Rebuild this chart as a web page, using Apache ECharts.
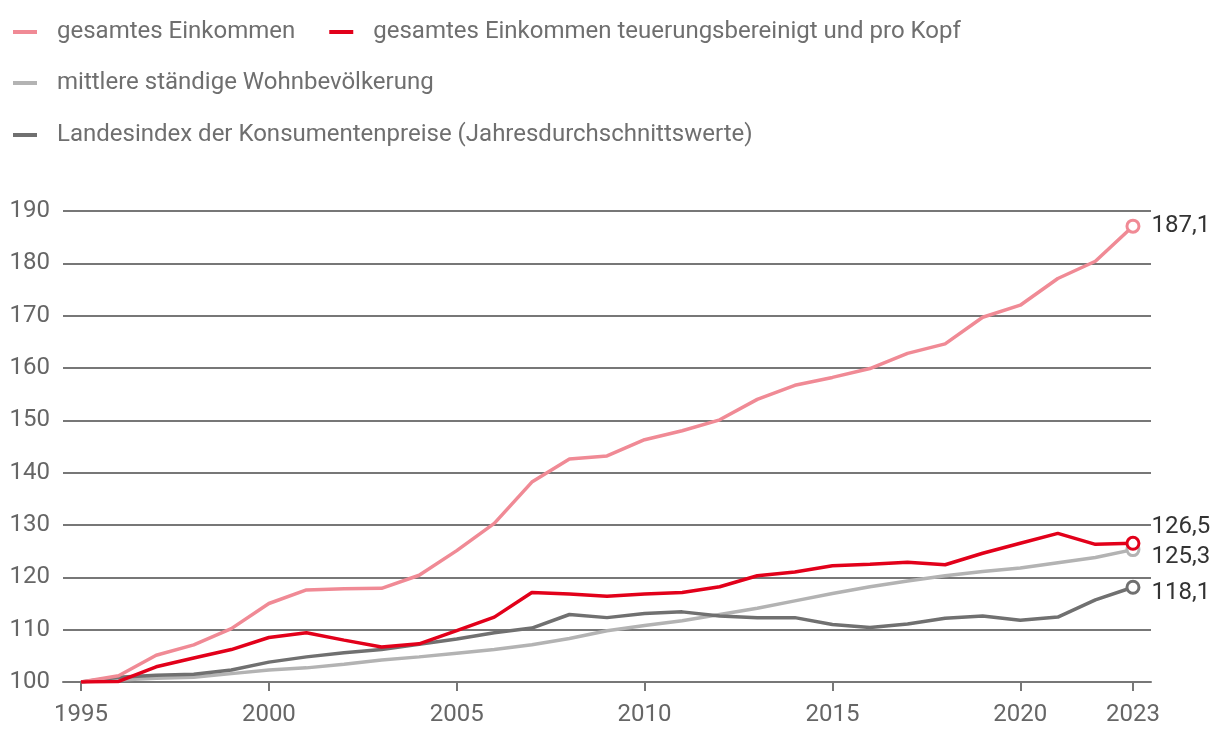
<!DOCTYPE html>
<html>
<head>
<meta charset="utf-8">
<script src="https://cdn.jsdelivr.net/npm/echarts@6/dist/echarts.min.js"></script>
<style>
html,body{margin:0;padding:0;background:#fff;}
#chart{width:1220px;height:744px;}
</style>
</head>
<body>
<div id="chart"></div>
<script>
const years = [1995,1996,1997,1998,1999,2000,2001,2002,2003,2004,2005,2006,2007,2008,2009,2010,2011,2012,2013,2014,2015,2016,2017,2018,2019,2020,2021,2022,2023];
const einkommen = [100,101.2,105.1,107.1,110.2,115.0,117.6,117.8,117.9,120.4,125.1,130.3,138.2,142.6,143.2,146.3,148.0,150.1,154.0,156.7,158.2,159.9,162.8,164.6,169.7,172.0,177.1,180.4,187.1];
const einkommenReal = [100,100.1,102.9,104.6,106.2,108.5,109.4,108.0,106.7,107.3,109.8,112.4,117.1,116.8,116.4,116.8,117.1,118.2,120.3,121.0,122.2,122.5,122.9,122.4,124.6,126.5,128.4,126.3,126.5];
const bevoelkerung = [100,100.4,100.7,100.9,101.6,102.3,102.7,103.4,104.2,104.8,105.5,106.2,107.1,108.3,109.8,110.8,111.7,112.9,114.1,115.5,116.9,118.2,119.3,120.3,121.1,121.8,122.8,123.8,125.3];
const lik = [100,100.9,101.3,101.5,102.3,103.8,104.8,105.6,106.2,107.2,108.2,109.4,110.3,112.9,112.3,113.1,113.4,112.6,112.3,112.3,111.0,110.4,111.1,112.2,112.6,111.8,112.4,115.7,118.1];
const xTicks = [1995,2000,2005,2010,2015,2020,2023];
const names = ['gesamtes Einkommen','gesamtes Einkommen teuerungsbereinigt und pro Kopf','mittlere ständige Wohnbevölkerung','Landesindex der Konsumentenpreise (Jahresdurchschnittswerte)'];

const FONT = 'Roboto, "Noto Sans", sans-serif';

function mkData(vals, color, offset) {
  return vals.map((v, i) => {
    if (i < vals.length - 1) return [years[i], v];
    return {
      value: [years[i], v],
      symbol: 'circle',
      symbolSize: 12,
      itemStyle: {color: '#fff', borderColor: color, borderWidth: 3},
      label: {
        show: true, position: 'right', distance: 11, offset: offset,
        formatter: (p) => p.value[1].toFixed(1).replace('.', ','),
        color: '#333', fontSize: 24, fontFamily: FONT
      }
    };
  });
}

function mkSeries(name, vals, color, offset, z) {
  return {
    name: name, type: 'line', data: mkData(vals, color, offset),
    showSymbol: true, symbol: 'none', z: z,
    lineStyle: {color: color, width: 3.5},
    itemStyle: {color: color},
    emphasis: {disabled: true},
    animation: false
  };
}

const colors = ['#f08a95', '#e2001a', '#b3b3b3', '#707070'];

const legendCommon = {
  icon: 'rect', itemWidth: 24, itemHeight: 4, left: 8,
  textStyle: {color: '#6f6f6f', fontSize: 24, fontFamily: FONT, padding: [0, 0, 0, 15]},
  itemGap: 34, selectedMode: false
};

const chart = echarts.init(document.getElementById('chart'), null, {renderer: 'canvas'});
chart.setOption({
  backgroundColor: '#fff',
  animation: false,
  color: colors,
  legend: [
    Object.assign({}, legendCommon, {top: 15, data: [names[0], names[1]]}),
    Object.assign({}, legendCommon, {top: 66, data: [names[2]]}),
    Object.assign({}, legendCommon, {top: 118, data: [names[3]]})
  ],
  grid: {left: 63, right: 69, top: 211, bottom: 62, containLabel: false},
  xAxis: {
    type: 'value', min: 1994.52, max: 2023.48,
    axisLine: {show: true, lineStyle: {color: '#777', width: 2}},
    axisTick: {show: true, customValues: xTicks, length: 9, lineStyle: {color: '#777', width: 2}},
    axisLabel: {customValues: xTicks, color: '#666', fontSize: 24, fontFamily: FONT, margin: 21, formatter: (v) => String(v)},
    splitLine: {show: false}
  },
  yAxis: {
    type: 'value', min: 100, max: 190, interval: 10,
    axisLine: {show: false}, axisTick: {show: false},
    axisLabel: {color: '#666', fontSize: 24, fontFamily: FONT, margin: 13},
    splitLine: {show: true, lineStyle: {color: '#777', width: 2}}
  },
  series: [
    mkSeries(names[0], einkommen, colors[0], [0, 0], 4),
    mkSeries(names[1], einkommenReal, colors[1], [0, -16], 5),
    mkSeries(names[2], bevoelkerung, colors[2], [0, 7], 2),
    mkSeries(names[3], lik, colors[3], [0, 6], 3)
  ]
});
</script>
</body>
</html>
